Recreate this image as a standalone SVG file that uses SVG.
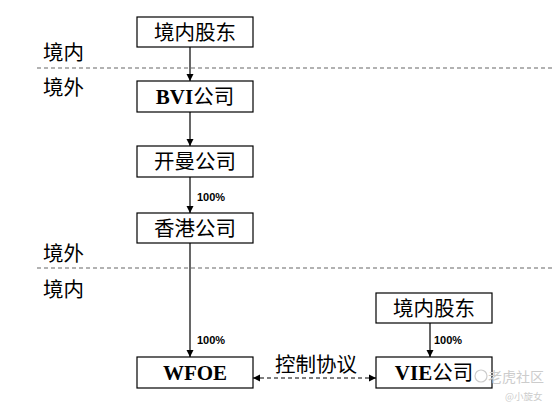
<svg xmlns="http://www.w3.org/2000/svg" width="554" height="408" viewBox="0 0 554 408">
<style>
.box{fill:#fff;stroke:#000;stroke-width:1.2}
.cn{font-family:"Noto Sans CJK SC","Noto Sans",sans-serif;font-size:20.5px;fill:#000}
.lat{font-family:"Liberation Serif",serif;font-weight:bold;font-size:21px;fill:#000}
.pct{font-family:"Liberation Sans",Arial,sans-serif;font-weight:bold;font-size:11px;fill:#000}
.edge{stroke:#000;stroke-width:1.2;fill:none}
.div{stroke:#666;stroke-width:1.2;stroke-dasharray:4 3}
.wm{font-family:"Noto Sans CJK SC",sans-serif;fill:#ccc}
</style>
<defs>
<marker id="ah" markerWidth="8" markerHeight="8" refX="7" refY="4" orient="auto" markerUnits="userSpaceOnUse">
<path d="M0,0.5 L7,4 L0,7.5 Z" fill="#000"/>
</marker>
<marker id="ahs" markerWidth="8" markerHeight="8" refX="0" refY="4" orient="auto" markerUnits="userSpaceOnUse">
<path d="M7,0.5 L0,4 L7,7.5 Z" fill="#000"/>
</marker>
</defs>
<rect width="554" height="408" fill="#fff"/>
<g id="dividers">
<line class="div" x1="37" y1="68" x2="554" y2="68"/>
<line class="div" x1="37" y1="268" x2="554" y2="268"/>
<text class="cn" x="43" y="60" font-size="20">境内</text>
<text class="cn" x="43" y="95" font-size="20">境外</text>
<text class="cn" x="43" y="261" font-size="20">境外</text>
<text class="cn" x="43" y="297" font-size="20">境内</text>
</g>
<g id="connectors">
<line class="edge" x1="190" y1="46" x2="190" y2="81" marker-end="url(#ah)"/>
<line class="edge" x1="190" y1="112" x2="190" y2="146" marker-end="url(#ah)"/>
<line class="edge" x1="190" y1="177" x2="190" y2="213" marker-end="url(#ah)"/>
<text class="pct" x="197" y="201">100%</text>
<line class="edge" x1="190" y1="243" x2="190" y2="357" marker-end="url(#ah)"/>
<text class="pct" x="197" y="344">100%</text>
<line class="edge" x1="430" y1="323" x2="430" y2="357" marker-end="url(#ah)"/>
<text class="pct" x="434" y="344">100%</text>
<line class="edge" x1="253" y1="378" x2="376" y2="378" stroke-dasharray="4 3" marker-start="url(#ahs)" marker-end="url(#ah)"/>
<text class="cn" x="275" y="372" font-size="21">控制协议</text>
</g>
<g id="n1"><rect class="box" x="137" y="17" width="116" height="30"/><text class="cn" x="195" y="39.5" text-anchor="middle">境内股东</text></g>
<g id="n2"><rect class="box" x="137" y="81" width="116" height="31"/><text x="195" y="104" text-anchor="middle"><tspan class="lat">BVI</tspan><tspan class="cn">公司</tspan></text></g>
<g id="n3"><rect class="box" x="137" y="146" width="116" height="31"/><text class="cn" x="195" y="169" text-anchor="middle">开曼公司</text></g>
<g id="n4"><rect class="box" x="137" y="213" width="116" height="30"/><text class="cn" x="195" y="235.5" text-anchor="middle">香港公司</text></g>
<g id="n5"><rect class="box" x="137" y="357" width="116" height="31"/><text class="lat" x="195" y="380" text-anchor="middle">WFOE</text></g>
<g id="n6"><rect class="box" x="376" y="293" width="116" height="30"/><text class="cn" x="434" y="315.5" text-anchor="middle">境内股东</text></g>
<g id="n7"><rect class="box" x="376" y="357" width="116" height="31"/><text x="434" y="380" text-anchor="middle"><tspan class="lat">VIE</tspan><tspan class="cn">公司</tspan></text></g>
<g id="watermark">
<circle cx="481" cy="376" r="6" fill="none" stroke="#ccc" stroke-width="1.2"/>
<text class="wm" x="488" y="382" font-size="14">老虎社区</text>
<text class="wm" x="505" y="400" font-size="9.5">@小旋女</text>
</g>
</svg>
